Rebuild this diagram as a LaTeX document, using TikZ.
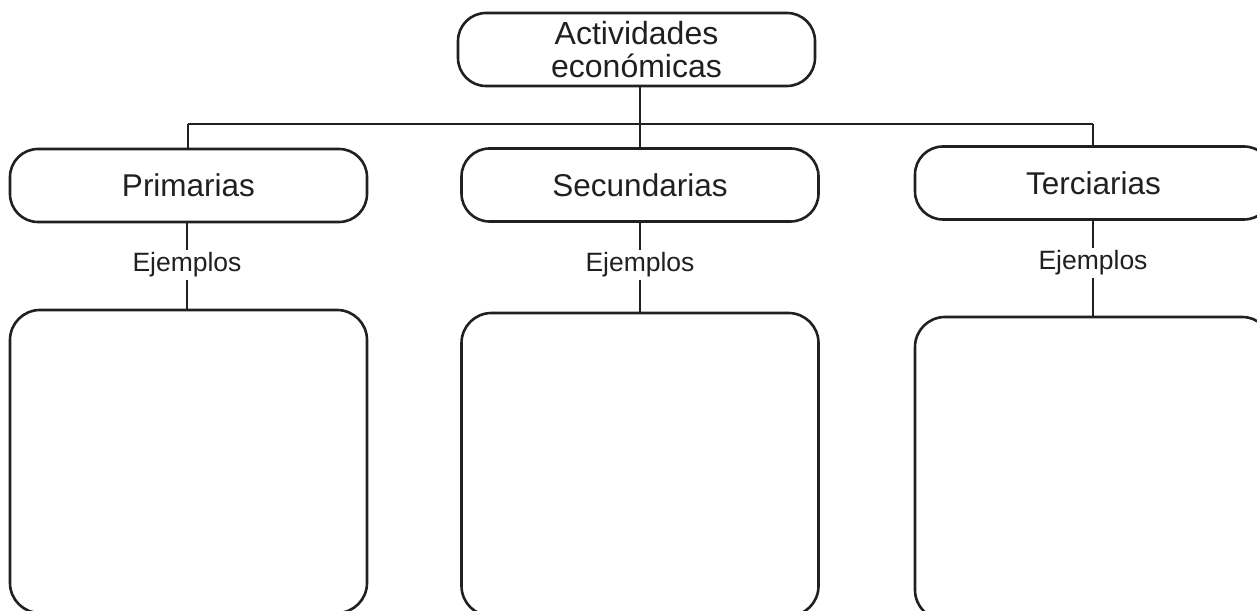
\documentclass[tikz,border=0pt]{standalone}
\usepackage{fontspec}
\setmainfont{Liberation Sans}
\definecolor{ink}{HTML}{231F20}
\begin{document}
\begin{tikzpicture}[x=1pt,y=1pt,
  box/.style={draw=ink, text=ink, line width=2.6pt, rounded corners=28pt, minimum width=357pt, minimum height=73pt, inner sep=0pt, font=\fontsize{31.5}{33}\selectfont, align=center},
  bigbox/.style={draw=ink, line width=2.6pt, rounded corners=30pt, minimum width=357pt, minimum height=303pt, inner sep=0pt},
  lbl/.style={text=ink, font=\fontsize{26.5}{28}\selectfont, inner sep=0pt, minimum height=29pt},
  conn/.style={draw=ink, line width=2.6pt}]
\useasboundingbox (0,0) rectangle (1257,610);
\clip (0,0) rectangle (1257,610);
\node[box, font=\fontsize{32}{33}\selectfont] (top) at (636.5,560.5) {Actividades\\económicas};
\node[box] (p) at (188.5,424.5) {Primarias};
\node[box] (s) at (640,425) {Secundarias};
\node[box] (t) at (1093.5,427) {Terciarias};
\node[lbl] (lp) at (187,345) {Ejemplos};
\node[lbl] (ls) at (640,345) {Ejemplos};
\node[lbl] (lt) at (1093,347) {Ejemplos};
\node[bigbox] (bp) at (188.5,148.5) {};
\node[bigbox] (bs) at (640,145.5) {};
\node[bigbox] (bt) at (1093.5,141.5) {};
\coordinate (hl) at (188,486);
\coordinate (hr) at (1093,486);
\path[conn] (top.south -| s.north) -- (s.north);
\path[conn] (hl) -- (hr);
\path[conn] (hl) -- (p.north -| hl);
\path[conn] (hr) -- (t.north -| hr);
\path[conn] (p.south -| lp) -- (lp.north);
\path[conn] (lp.south) -- (bp.north -| lp);
\path[conn] (s.south) -- (ls.north);
\path[conn] (ls.south) -- (bs.north);
\path[conn] (t.south -| lt) -- (lt.north);
\path[conn] (lt.south) -- (bt.north -| lt);
\end{tikzpicture}
\end{document}
